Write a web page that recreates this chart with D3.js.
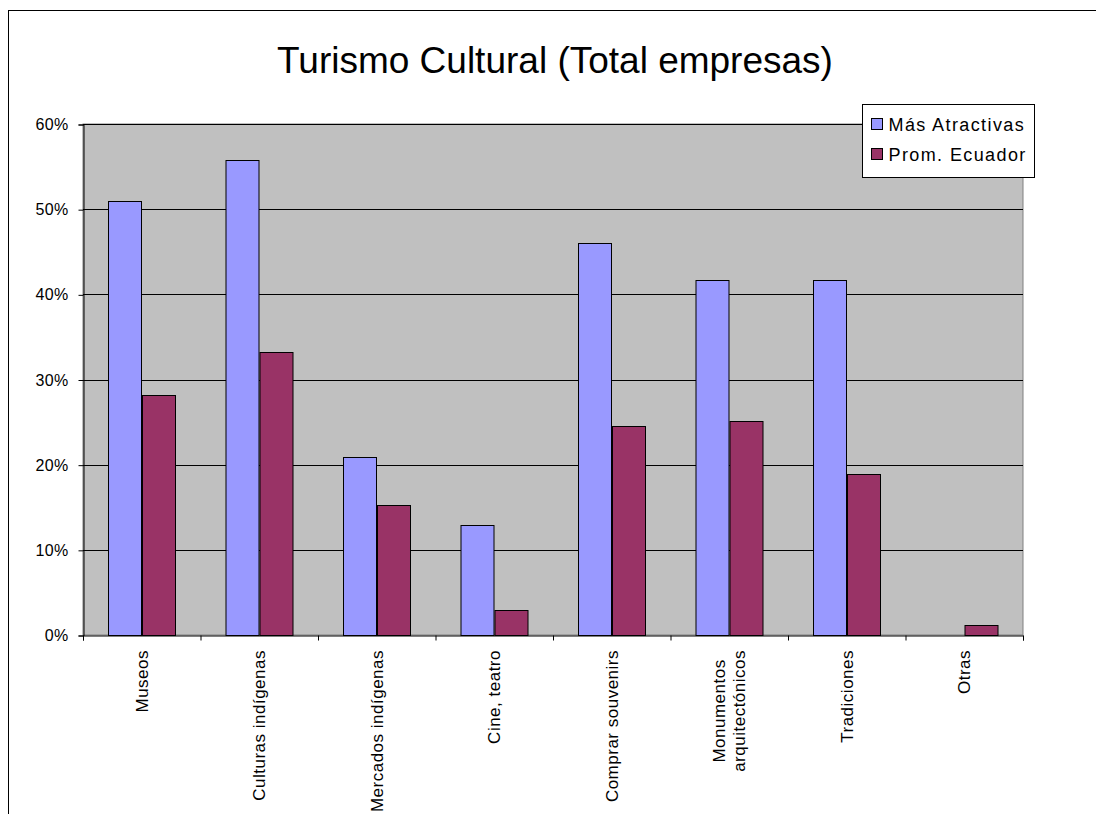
<!DOCTYPE html>
<html>
<head>
<meta charset="utf-8">
<script src="https://cdn.jsdelivr.net/npm/d3@7"></script>
<style>
  body { margin: 0; background: #fff; }
  svg { display: block; font-family: 'Liberation Sans', Arial, sans-serif; }
</style>
</head>
<body>
<svg width="1096" height="814"></svg>
<script>
const CATEGORIES = [
  ['Museos'],
  ['Culturas indígenas'],
  ['Mercados indígenas'],
  ['Cine, teatro'],
  ['Comprar souvenirs'],
  ['Monumentos', 'arquitectónicos'],
  ['Tradiciones'],
  ['Otras']
]
const SERIES = ['Más Atractivas', 'Prom. Ecuador']
const MAS_ATRACTIVAS = [0.510, 0.558, 0.209, 0.129, 0.460, 0.417, 0.417, 0]
const PROM_ECUADOR = [0.282, 0.332, 0.153, 0.029, 0.245, 0.251, 0.189, 0.012]
const Y_TICKS = [0, 0.1, 0.2, 0.3, 0.4, 0.5, 0.6]
const COLORS = ['#9999ff', '#993366']

const svg = d3.select('svg')
const margin = { top: 124, left: 83, right: 1023, bottom: 635 }

// outer chart frame
svg.append('rect')
  .attr('x', 8.5).attr('y', 10.5)
  .attr('width', 1200).attr('height', 900)
  .attr('fill', 'none').attr('stroke', '#000')

svg.append('text')
  .attr('x', 555).attr('y', 73)
  .attr('text-anchor', 'middle')
  .attr('font-size', 37)
  .text('Turismo Cultural (Total empresas)')

const keys = CATEGORIES.map((c, i) => i)
const x = d3.scaleBand().domain(keys).range([margin.left, margin.right])
const x1 = d3.scaleBand().domain(SERIES).range([0, x.bandwidth()]).paddingInner(0).paddingOuter(0.755)
const y = d3.scaleLinear().domain([0, 0.6]).range([margin.bottom, margin.top])

svg.append('rect')
  .attr('x', margin.left).attr('y', margin.top)
  .attr('width', margin.right - margin.left).attr('height', margin.bottom - margin.top)
  .attr('fill', '#c0c0c0').attr('stroke', '#808080')

svg.append('g')
  .selectAll('line')
  .data(Y_TICKS.slice(1))
  .enter().append('line')
  .attr('x1', margin.left).attr('x2', margin.right)
  .attr('y1', d => Math.round(y(d)) + 0.5).attr('y2', d => Math.round(y(d)) + 0.5)
  .attr('stroke', '#000')

const rows = keys.map(i => [MAS_ATRACTIVAS[i], PROM_ECUADOR[i]])

svg.append('g')
  .selectAll('g')
  .data(rows)
  .enter().append('g')
  .attr('transform', (d, i) => `translate(${x(i)},0)`)
  .selectAll('rect')
  .data(d => d.map((v, j) => ({ v, j })).filter(e => e.v > 0))
  .enter().append('rect')
  .attr('x', d => Math.round(x1(SERIES[d.j])) + 0.5)
  .attr('y', d => Math.round(y(d.v)) + 0.5)
  .attr('width', Math.round(x1.bandwidth()))
  .attr('height', d => Math.round(y(0)) - Math.round(y(d.v)))
  .attr('fill', d => COLORS[d.j])
  .attr('stroke', '#000')

// y axis
const yAxis = svg.append('g')
  .attr('transform', `translate(${margin.left + 0.5},0.5)`)
  .call(d3.axisLeft(y).tickValues(Y_TICKS).tickFormat(d3.format('.0%')).tickSize(5).tickPadding(10))
yAxis.select('.domain').attr('stroke', '#000')
yAxis.selectAll('text')
  .attr('font-size', 16).attr('letter-spacing', 0.3)
  .attr('font-family', 'Liberation Sans, Arial').attr('fill', '#000')

// x axis
const xAxis = svg.append('g')
  .attr('transform', `translate(0,${margin.bottom + 0.5})`)
  .call(d3.axisBottom(d3.scaleLinear().domain([0, 8]).range([margin.left, margin.right]))
    .ticks(8).tickSize(5).tickFormat(''))
xAxis.select('.domain').attr('stroke', '#000')

const labels = svg.append('g')
  .selectAll('text')
  .data(CATEGORIES)
  .enter().append('text')
  .attr('transform', (d, i) => `translate(${x(i) + x.bandwidth() / 2},650) rotate(-90)`)
  .attr('font-size', 17)
  .attr('letter-spacing', 0.5)

labels.selectAll('tspan')
  .data(d => d.map((t, k) => ({ t, k, n: d.length })))
  .enter().append('tspan')
  .attr('y', d => (d.k - (d.n - 1) / 2) * 20 + 6)
  .text(d => d.t)

// single lines hang from the axis; wrapped label is centred as a block
labels.each(function (d) {
  const spans = d3.select(this).selectAll('tspan')
  if (d.length > 1) {
    const widest = d3.max(spans.nodes(), n => n.getComputedTextLength())
    spans.attr('x', -widest / 2).attr('text-anchor', 'middle')
  } else {
    spans.attr('x', 0).attr('text-anchor', 'end')
  }
})

// legend
const legend = svg.append('g').attr('transform', 'translate(862.5,104.5)')
legend.append('rect')
  .attr('width', 172).attr('height', 73)
  .attr('fill', '#fff').attr('stroke', '#000')
SERIES.forEach((s, i) => {
  const row = legend.append('g').attr('transform', `translate(0,${i * 30})`)
  row.append('rect')
    .attr('x', 9).attr('y', 14).attr('width', 11).attr('height', 11)
    .attr('fill', COLORS[i]).attr('stroke', '#000')
  row.append('text')
    .attr('x', 26).attr('y', 26)
    .attr('font-size', 18)
    .attr('letter-spacing', 1.4)
    .text(s)
})
</script>
</body>
</html>
